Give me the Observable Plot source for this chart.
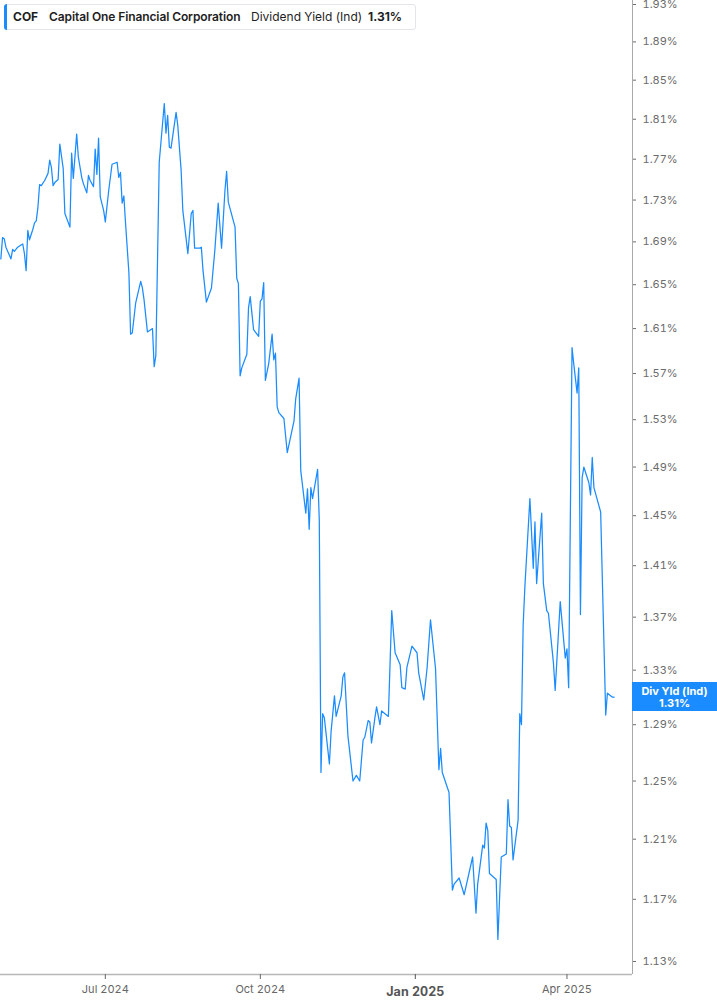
<!DOCTYPE html>
<html>
<head>
<meta charset="utf-8">
<script src="https://cdn.jsdelivr.net/npm/d3@7"></script>
<script src="https://cdn.jsdelivr.net/npm/@observablehq/plot@0.6"></script>
<style>
  html, body { margin: 0; padding: 0; background: #fff; }
  #wrap { position: relative; width: 717px; height: 1005px; overflow: hidden; font-family: Inter, "Noto Sans", sans-serif; }
  #hdr { position: absolute; left: 4px; top: 4px; width: 412px; height: 26px; box-sizing: border-box;
         border: 1px solid #e3e5e8; border-radius: 3px; background: #fff; color: #1e1e1e; font-size: 12px; }
  #hdr .bar { position: absolute; left: -1px; top: -1px; bottom: -1px; width: 3px; background: #1a8cff; border-radius: 3px 0 0 3px; }
  #hdr span { position: absolute; top: 5px; white-space: nowrap; line-height: 14px; }
  #endlbl { position: absolute; left: 632px; width: 85px; height: 29px; background: #1a8cff; color: #fff;
            font-weight: 700; font-size: 11px; line-height: 12px; text-align: center; box-sizing: border-box; padding-top: 2.5px; }
</style>
</head>
<body>
<div id="wrap">
  <div id="chart"></div>
</div>
<script>
const ticker = "COF";
const company = "Capital One Financial Corporation";
const metric = "Dividend Yield (Ind)";
const metricShort = "Div Yld (Ind)";

const dates = [
"2024-04-30","2024-05-01","2024-05-02","2024-05-03","2024-05-06","2024-05-07","2024-05-08","2024-05-10","2024-05-12","2024-05-13",
"2024-05-14","2024-05-15","2024-05-16","2024-05-17","2024-05-19","2024-05-20","2024-05-21","2024-05-22","2024-05-23","2024-05-24",
"2024-05-26","2024-05-28","2024-05-29","2024-05-30","2024-05-31","2024-06-01","2024-06-03","2024-06-04","2024-06-06","2024-06-07",
"2024-06-10","2024-06-11","2024-06-12","2024-06-14","2024-06-15","2024-06-17","2024-06-18","2024-06-20","2024-06-21","2024-06-22",
"2024-06-24","2024-06-25","2024-06-26","2024-06-27","2024-06-28","2024-06-30","2024-07-01","2024-07-03","2024-07-05","2024-07-08",
"2024-07-09","2024-07-10","2024-07-11","2024-07-12","2024-07-13","2024-07-15","2024-07-16","2024-07-17","2024-07-19","2024-07-22",
"2024-07-23","2024-07-24","2024-07-26","2024-07-29","2024-07-30","2024-07-31","2024-08-02","2024-08-05","2024-08-06","2024-08-07",
"2024-08-08","2024-08-09","2024-08-12","2024-08-13","2024-08-15","2024-08-16","2024-08-19","2024-08-21","2024-08-22","2024-08-23",
"2024-08-26","2024-08-27","2024-08-28","2024-08-30","2024-09-02","2024-09-04","2024-09-06","2024-09-08","2024-09-10","2024-09-11",
"2024-09-12","2024-09-16","2024-09-17","2024-09-18","2024-09-19","2024-09-20","2024-09-23","2024-09-24","2024-09-25","2024-09-27",
"2024-09-30","2024-10-01","2024-10-02","2024-10-03","2024-10-04","2024-10-06","2024-10-08","2024-10-09","2024-10-10","2024-10-11",
"2024-10-12","2024-10-15","2024-10-17","2024-10-21","2024-10-22","2024-10-24","2024-10-25","2024-10-28","2024-10-29","2024-10-30",
"2024-10-31","2024-11-01","2024-11-04","2024-11-05","2024-11-06","2024-11-07","2024-11-08","2024-11-11","2024-11-12","2024-11-14",
"2024-11-15","2024-11-18","2024-11-19","2024-11-20","2024-11-22","2024-11-25","2024-11-27","2024-11-29","2024-12-01","2024-12-02",
"2024-12-04","2024-12-05","2024-12-06","2024-12-08","2024-12-09","2024-12-11","2024-12-12","2024-12-16","2024-12-18","2024-12-20",
"2024-12-23","2024-12-24","2024-12-26","2024-12-27","2024-12-30","2025-01-02","2025-01-03","2025-01-06","2025-01-08","2025-01-10",
"2025-01-13","2025-01-15","2025-01-16","2025-01-17","2025-01-21","2025-01-23","2025-01-24","2025-01-27","2025-01-30","2025-02-04",
"2025-02-06","2025-02-07","2025-02-10","2025-02-11","2025-02-12","2025-02-13","2025-02-14","2025-02-18","2025-02-19","2025-02-21",
"2025-02-24","2025-02-25","2025-02-26","2025-02-27","2025-02-28","2025-03-03","2025-03-04","2025-03-05","2025-03-06","2025-03-07",
"2025-03-10","2025-03-12","2025-03-13","2025-03-14","2025-03-17","2025-03-18","2025-03-20","2025-03-21","2025-03-24","2025-03-25",
"2025-03-28","2025-03-31","2025-04-01","2025-04-02","2025-04-04","2025-04-05","2025-04-07","2025-04-08","2025-04-09","2025-04-10",
"2025-04-11","2025-04-14","2025-04-15","2025-04-16","2025-04-17","2025-04-21","2025-04-24","2025-04-25","2025-04-28","2025-04-29"
];

const yields = [
1.674,1.694,1.693,1.685,1.674,1.683,1.681,1.685,1.687,1.688,
1.679,1.663,1.701,1.692,1.702,1.708,1.710,1.723,1.745,1.744,
1.749,1.756,1.769,1.762,1.744,1.747,1.750,1.785,1.761,1.717,
1.704,1.776,1.751,1.795,1.772,1.752,1.746,1.737,1.754,1.749,
1.743,1.780,1.755,1.791,1.733,1.720,1.709,1.739,1.765,1.767,
1.752,1.757,1.727,1.734,1.708,1.661,1.605,1.606,1.633,1.653,
1.647,1.636,1.607,1.610,1.576,1.586,1.767,1.826,1.796,1.814,
1.782,1.781,1.817,1.804,1.759,1.720,1.679,1.717,1.720,1.684,
1.684,1.685,1.663,1.634,1.647,1.682,1.727,1.684,1.739,1.758,
1.728,1.704,1.656,1.651,1.568,1.575,1.587,1.629,1.639,1.609,
1.603,1.635,1.637,1.652,1.564,1.579,1.605,1.582,1.588,1.541,
1.536,1.531,1.502,1.529,1.548,1.566,1.487,1.452,1.472,1.439,
1.473,1.464,1.488,1.446,1.256,1.298,1.295,1.262,1.285,1.311,
1.296,1.311,1.325,1.328,1.282,1.250,1.254,1.250,1.279,1.281,
1.293,1.292,1.277,1.295,1.303,1.290,1.300,1.296,1.375,1.343,
1.334,1.317,1.316,1.332,1.348,1.343,1.328,1.308,1.332,1.368,
1.331,1.258,1.273,1.256,1.242,1.176,1.180,1.184,1.173,1.198,
1.161,1.180,1.206,1.204,1.221,1.216,1.187,1.183,1.144,1.198,
1.200,1.237,1.219,1.218,1.196,1.223,1.298,1.290,1.364,1.393,
1.464,1.408,1.445,1.396,1.452,1.396,1.375,1.373,1.335,1.315,
1.382,1.339,1.346,1.317,1.593,1.579,1.553,1.575,1.372,1.481,
1.490,1.477,1.467,1.498,1.473,1.453,1.297,1.313,1.310,1.310
];

const yTicks = [1.13,1.17,1.21,1.25,1.29,1.33,1.37,1.41,1.45,1.49,1.53,1.57,1.61,1.65,1.69,1.73,1.77,1.81,1.85,1.89,1.93];
const xTicks = ["2024-07-01","2024-10-01","2025-04-01"];
const xTickYear = ["2025-01-01"];

const yDomain = [1.1218, 1.9343];
const xDomain = [new Date("2024-04-29T19:00Z"), new Date("2025-05-09T21:30Z")];

const data = dates.map((d, i) => ({date: new Date(d), value: yields[i]}));
const last = data[data.length - 1];
const fmtPct = v => v.toFixed(2) + "%";
const fmtMonth = d3.utcFormat("%b %Y");
const blue = "#1a8cff";

const plot = Plot.plot({
  width: 717,
  height: 1005,
  marginLeft: 0,
  marginRight: 85,
  marginTop: 0,
  marginBottom: 31,
  style: {fontFamily: "Inter, 'Noto Sans', sans-serif", background: "transparent", overflow: "visible"},
  x: {type: "utc", domain: xDomain},
  y: {type: "log", domain: yDomain},
  marks: [
    Plot.ruleY([yDomain[0]], {stroke: "#b8b8b8", strokeWidth: 1.5}),
    Plot.ruleX([xDomain[1]], {stroke: "#a9a9a9", strokeWidth: 1}),
    Plot.axisY({anchor: "right", ticks: yTicks, tickFormat: fmtPct, tickSize: 3, tickPadding: 7,
                fontSize: 11, color: "#6b6b6b", label: null}),
    Plot.axisX({ticks: xTicks.map(d => new Date(d)), tickFormat: fmtMonth, tickSize: 5, tickPadding: 6,
                fontSize: 11, color: "#666", label: null}),
    Plot.axisX({ticks: xTickYear.map(d => new Date(d)), tickFormat: fmtMonth, tickSize: 5, tickPadding: 8,
                fontSize: 12.5, fontWeight: "bold", color: "#555", label: null}),
    Plot.lineY(data, {x: "date", y: "value", stroke: blue, strokeWidth: 1.25})
  ]
});

const wrap = document.getElementById("wrap");
document.getElementById("chart").appendChild(plot);

// header box
const hdr = document.createElement("div");
hdr.id = "hdr";
hdr.innerHTML = `<div class="bar"></div>
  <span style="left:8px;font-weight:700">${ticker}</span>
  <span style="left:44px;font-weight:600;letter-spacing:-0.1px">${company}</span>
  <span style="left:246px;font-weight:400">${metric}</span>
  <span style="left:363px;font-weight:700">${fmtPct(last.value)}</span>`;
wrap.appendChild(hdr);

// end-value label positioned from the y scale
const yPos = plot.scale("y").apply(last.value);
const lbl = document.createElement("div");
lbl.id = "endlbl";
lbl.style.top = (yPos - 14.5) + "px";
lbl.innerHTML = `${metricShort}<br>${fmtPct(last.value)}`;
wrap.appendChild(lbl);
</script>
</body>
</html>
